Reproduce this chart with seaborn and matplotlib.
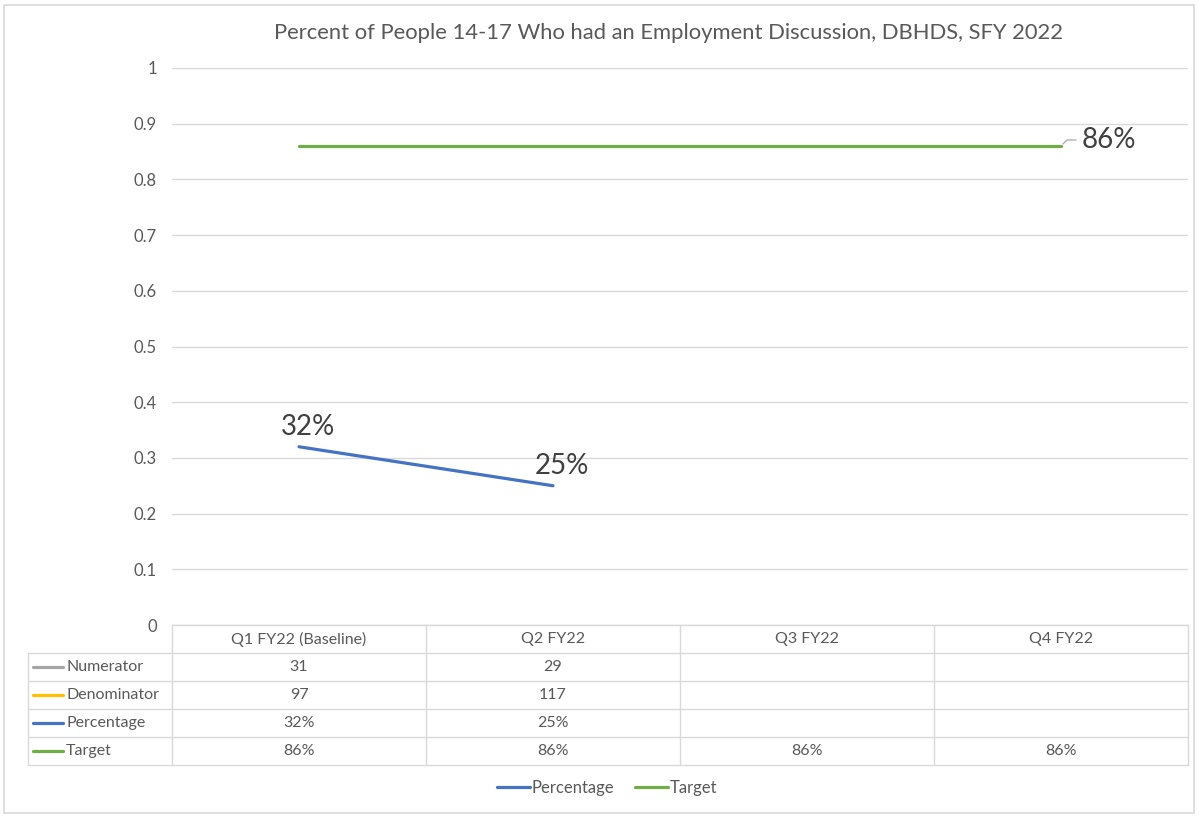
import numpy as np
import pandas as pd
import matplotlib
matplotlib.use("Agg")
import matplotlib.pyplot as plt
from matplotlib.lines import Line2D
from matplotlib.patches import Rectangle
from matplotlib.transforms import blended_transform_factory
import seaborn as sns

# ---- data ----
quarters = ["Q1 FY22 (Baseline)", "Q2 FY22", "Q3 FY22", "Q4 FY22"]
numerator = [31, 29, None, None]
denominator = [97, 117, None, None]
percentage = [0.32, 0.25, None, None]
target = [0.86, 0.86, 0.86, 0.86]

series_names = ["Numerator", "Denominator", "Percentage", "Target"]
series_colors = ["#A5A5A5", "#FFC000", "#4472C4", "#70AD47"]
y_ticks = [0, 0.1, 0.2, 0.3, 0.4, 0.5, 0.6, 0.7, 0.8, 0.9, 1]
title = "Percent of People 14-17 Who had an Employment Discussion, DBHDS, SFY 2022"

# ---- style ----
sns.set_theme(style="white")
plt.rcParams["font.family"] = ["Lato", "DejaVu Sans"]
TXT = "#595959"
GRID = "#D9D9D9"
TABLE_FS = 11.5

W, H = 1199, 816
fig = plt.figure(figsize=(W / 100, H / 100), dpi=100)
fig.patch.set_facecolor("white")


def fx(px):
    return px / W


def fy(py):
    return 1 - py / H


# plot area
ax = fig.add_axes([fx(172), fy(625), fx(1188) - fx(172), fy(68) - fy(625)])

rows = []
for name, vals in [("Percentage", percentage), ("Target", target)]:
    for i, v in enumerate(vals):
        if v is not None:
            rows.append({"pos": i, "value": v, "series": name})
df = pd.DataFrame(rows)
palette = dict(zip(series_names, series_colors))

sns.lineplot(data=df, x="pos", y="value", hue="series", palette=palette,
             linewidth=2.3, ax=ax, legend=False, zorder=3)
for ln in ax.lines:
    ln.set_solid_capstyle("round")

ax.set_xlim(-0.5, len(quarters) - 0.5)
ax.set_ylim(0, 1)
ax.set_yticks(y_ticks)
ax.set_yticklabels([f"{t:g}" for t in y_ticks])
ax.set_xticks([])
ax.set_xlabel("")
ax.set_ylabel("")
ax.tick_params(axis="y", length=0, pad=11, labelsize=12, labelcolor=TXT)
ax.grid(axis="y", color=GRID, linewidth=1)
for s in ax.spines.values():
    s.set_visible(False)

# data labels
for i, v in enumerate(percentage):
    if v is not None:
        ax.annotate(f"{v:.0%}", (i, v), xytext=(9, 7), textcoords="offset pixels",
                    ha="center", va="bottom", fontsize=20, color="#404040")

last = len(target) - 1
ax.annotate(f"{target[last]:.0%}", (last, target[last]), xytext=(21, 6),
            textcoords="offset pixels", ha="left", va="center",
            fontsize=20, color="#404040",
            arrowprops=dict(arrowstyle="-", color="#A6A6A6", lw=0.9,
                            shrinkA=2, shrinkB=2, relpos=(0, 0.5),
                            connectionstyle="angle,angleA=0,angleB=45,rad=0"))

fig.text(fx(669), fy(33), title, ha="center", va="center", fontsize=15.8, color=TXT)

# ---- data table ----
tr = blended_transform_factory(ax.transData, fig.transFigure)
left_col = -0.5 - (172 - 28) / 254.0
right_edge = len(quarters) - 0.5
row_top = [625, 653, 681, 709, 737, 765]

line_kw = dict(color=GRID, linewidth=1, clip_on=False, transform=tr)
fig.add_artist(Line2D([-0.5, right_edge], [fy(625)] * 2, **line_kw))
for py in row_top[1:]:
    fig.add_artist(Line2D([left_col, right_edge], [fy(py)] * 2, **line_kw))
fig.add_artist(Line2D([left_col, left_col], [fy(653), fy(765)], **line_kw))
for i in range(len(quarters) + 1):
    fig.add_artist(Line2D([i - 0.5, i - 0.5], [fy(625), fy(765)], **line_kw))

for i, q in enumerate(quarters):
    fig.text(i, fy(639), q, transform=tr, ha="center", va="center",
             fontsize=TABLE_FS, color=TXT)

table_vals = [
    [None if v is None else str(v) for v in numerator],
    [None if v is None else str(v) for v in denominator],
    [None if v is None else f"{v:.0%}" for v in percentage],
    [None if v is None else f"{v:.0%}" for v in target],
]
for r, (name, color, vals) in enumerate(zip(series_names, series_colors, table_vals)):
    yc = fy(row_top[r + 1] + 14)
    fig.add_artist(Line2D([fx(33), fx(63)], [yc, yc], color=color, linewidth=2.3,
                          transform=fig.transFigure))
    fig.text(fx(66), yc, name, ha="left", va="center", fontsize=TABLE_FS, color=TXT)
    for i, v in enumerate(vals):
        if v is not None:
            fig.text(i, yc, v, transform=tr, ha="center", va="center",
                     fontsize=TABLE_FS, color=TXT)

# ---- legend ----
handles = [Line2D([], [], color=palette[n], linewidth=2.3) for n in ["Percentage", "Target"]]
leg = fig.legend(handles, ["Percentage", "Target"], loc="center",
                 bbox_to_anchor=(fx(607), fy(788)), ncol=2, frameon=False,
                 fontsize=12, handlelength=2.0, handletextpad=0.1,
                 columnspacing=1.2)
for t in leg.get_texts():
    t.set_color(TXT)

# chart border
fig.add_artist(Rectangle((fx(4), fy(813)), fx(1194) - fx(4), fy(5) - fy(813),
                         transform=fig.transFigure, fill=False,
                         edgecolor=GRID, linewidth=1.2))

fig.savefig("out.png", dpi=100)
